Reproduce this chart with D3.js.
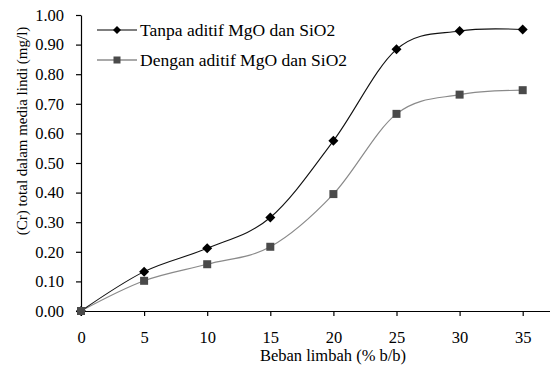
<!DOCTYPE html>
<html>
<head>
<meta charset="utf-8">
<script src="https://cdn.jsdelivr.net/npm/d3@7"></script>
<style>
html,body{margin:0;padding:0;background:#fff;}
svg text{font-family:"Liberation Serif","Times New Roman",serif;fill:#000;}
</style>
</head>
<body>
<svg id="chart" width="550" height="370"></svg>
<script>
const xValues = [0, 5, 10, 15, 20, 25, 30, 35];
const seriesTanpa = [0, 0.133, 0.212, 0.316, 0.575, 0.884, 0.946, 0.951];
const seriesDengan = [0, 0.102, 0.158, 0.217, 0.395, 0.666, 0.731, 0.746];
const seriesNames = ["Tanpa aditif MgO dan SiO2", "Dengan aditif MgO dan SiO2"];
const xTicks = [0, 5, 10, 15, 20, 25, 30, 35];
const yTicks = [0, 0.1, 0.2, 0.3, 0.4, 0.5, 0.6, 0.7, 0.8, 0.9, 1.0];
const xTitle = "Beban limbah (% b/b)";
const yTitle = "(Cr) total dalam media lindi (mg/l)";

const svg = d3.select("#chart");
const plotLeft = 81, plotTop = 15, plotBottom = 311;
const x = d3.scaleLinear().domain([0, 5]).range([plotLeft, plotLeft + 63.1]);
const y = d3.scaleLinear().domain([0, 1]).range([plotBottom, plotTop]);

// axes
const xAxis = d3.axisBottom(x).tickValues(xTicks).tickFormat(d3.format("d")).tickSize(5).tickPadding(15).tickSizeOuter(0);
const gx = svg.append("g").attr("transform", `translate(0,${plotBottom})`).call(xAxis);
gx.select(".domain").attr("d", `M${plotLeft},0.5H550`);
gx.selectAll("text").style("font-size", "16.5px").style("font-family", "Liberation Serif");

const yAxis = d3.axisLeft(y).tickValues(yTicks).tickFormat(d3.format(".2f")).tickSize(5).tickPadding(12).tickSizeOuter(0);
const gy = svg.append("g").attr("transform", `translate(${plotLeft},0)`).call(yAxis);
gy.selectAll("text").style("font-size", "16.5px").style("font-family", "Liberation Serif");
svg.selectAll(".domain, .tick line").attr("stroke", "#000").attr("stroke-width", 1.2);

// titles
svg.append("text").attr("x", 333).attr("y", 361).attr("text-anchor", "middle")
  .style("font-size", "16.5px").text(xTitle);
svg.append("text").attr("transform", "translate(27,131) rotate(-90)").attr("text-anchor", "middle")
  .style("font-size", "15px").text(yTitle);

const line = d3.line().x((d, i) => x(xValues[i])).y(d => y(d)).curve(d3.curveCardinal.tension(0));

// series 2
svg.append("path").attr("d", line(seriesDengan)).attr("fill", "none").attr("stroke", "#8a8a8a").attr("stroke-width", 1.2);
// series 1
svg.append("path").attr("d", line(seriesTanpa)).attr("fill", "none").attr("stroke", "#111").attr("stroke-width", 1.1);

function diamondPath(s){ return `M0,${-s}L${s},0L0,${s}L${-s},0Z`; }

svg.append("g").selectAll("path").data(seriesTanpa).join("path")
  .attr("transform", (d, i) => `translate(${x(xValues[i])},${y(d)})`)
  .attr("d", diamondPath(5)).attr("fill", "#000");
svg.append("g").selectAll("rect").data(seriesDengan).join("rect")
  .attr("x", (d, i) => x(xValues[i]) - 4).attr("y", d => y(d) - 4)
  .attr("width", 8).attr("height", 8).attr("fill", "#4a4a4a");

// legend
const leg = svg.append("g");
const rows = [30, 60];
leg.append("line").attr("x1", 97).attr("x2", 137).attr("y1", rows[0]).attr("y2", rows[0]).attr("stroke", "#000").attr("stroke-width", 1.2);
leg.append("path").attr("transform", `translate(117,${rows[0]})`).attr("d", diamondPath(4)).attr("fill", "#000");
leg.append("line").attr("x1", 97).attr("x2", 137).attr("y1", rows[1]).attr("y2", rows[1]).attr("stroke", "#555").attr("stroke-width", 1.2);
leg.append("rect").attr("x", 113.5).attr("y", rows[1] - 3.5).attr("width", 7).attr("height", 7).attr("fill", "#4a4a4a");
seriesNames.forEach((n, i) => {
  leg.append("text").attr("x", 140).attr("y", rows[i] + 5.5).style("font-size", "17.5px").text(n);
});
</script>
</body>
</html>
